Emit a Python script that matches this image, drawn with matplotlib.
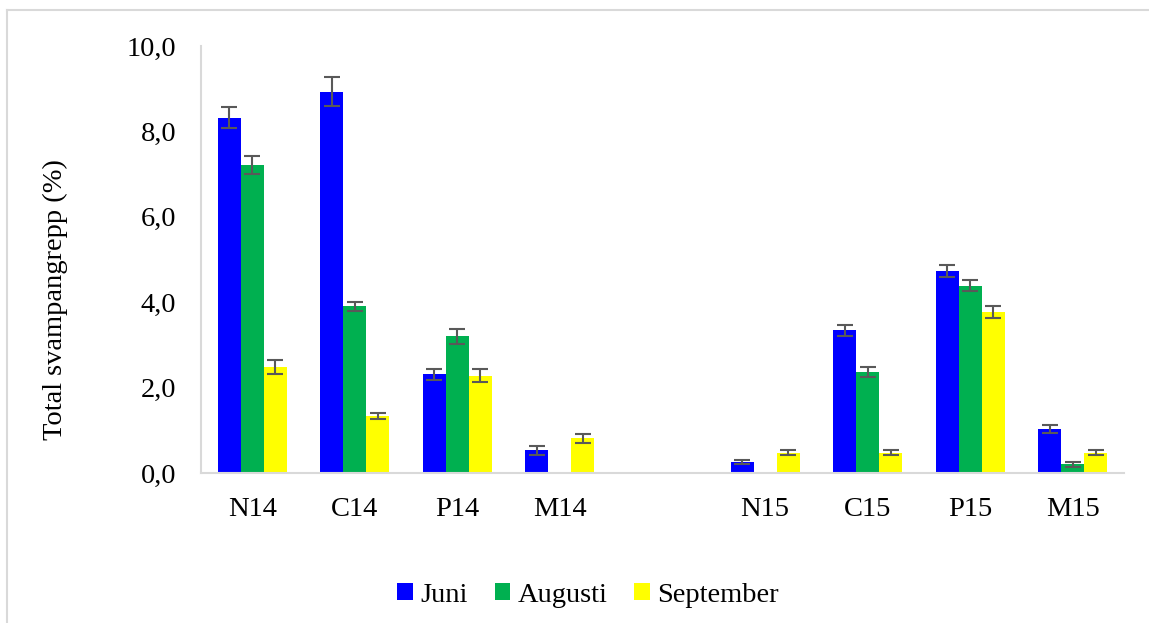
import numpy as np
import matplotlib
matplotlib.use('Agg')
import matplotlib.pyplot as plt
from matplotlib.lines import Line2D
from matplotlib.patches import Patch

plt.rcParams['font.family'] = ['Liberation Serif', 'DejaVu Serif']

# %% data (empty slot = gap between 2014 and 2015)
categories = ['N14', 'C14', 'P14', 'M14', '', 'N15', 'C15', 'P15', 'M15']
series = ['Juni', 'Augusti', 'September']

juni = [8.32, 8.93, 2.31, 0.53, np.nan, 0.26, 3.34, 4.73, 1.03]
augusti = [7.22, 3.90, 3.20, 0.0, np.nan, 0.0, 2.36, 4.39, 0.20]
september = [2.49, 1.34, 2.28, 0.81, np.nan, 0.48, 0.48, 3.76, 0.48]

juni_err = [0.25, 0.34, 0.13, 0.10, np.nan, 0.055, 0.13, 0.14, 0.10]
augusti_err = [0.21, 0.11, 0.18, np.nan, np.nan, np.nan, 0.12, 0.125, 0.05]
september_err = [0.16, 0.075, 0.15, 0.11, np.nan, 0.07, 0.07, 0.14, 0.07]

colors = ['#0000FF', '#00B050', '#FFFF00']

# %% plot
W, H = 1149, 623
fig = plt.figure(figsize=(W / 100, H / 100), dpi=100)
ax = fig.add_axes([201 / W, 1 - 473 / H, (1124 - 201) / W, (473 - 46) / H])

x = np.arange(len(categories))
width = 0.224
values = [juni, augusti, september]
errors = [juni_err, augusti_err, september_err]
for i in range(3):
    pos = x + (i - 1) * width
    ax.bar(pos, values[i], width, color=colors[i], label=series[i], zorder=2)
    ax.errorbar(pos, values[i], yerr=errors[i], fmt='none', ecolor='#595959',
                elinewidth=1.5, capsize=6, capthick=1.5, zorder=3)

ax.set_xlim(-0.5, len(categories) - 0.5)
ax.set_ylim(0, 10)
ax.set_yticks(np.arange(0, 10.1, 2))
ax.set_yticklabels([f'{v:.1f}'.replace('.', ',') for v in np.arange(0, 10.1, 2)])
ax.set_xticks(x)
ax.set_xticklabels(categories)
ax.tick_params(axis='both', length=0, labelsize=20.5, colors='black')
ax.tick_params(axis='y', pad=18)
ax.tick_params(axis='x', pad=17)

for s in ['top', 'right']:
    ax.spines[s].set_visible(False)
for s in ['left', 'bottom']:
    ax.spines[s].set_color('#D9D9D9')
    ax.spines[s].set_linewidth(1.5)

fig.text(55 / W, 1 - 300 / H, 'Total svampangrepp (%)', rotation=90,
         ha='center', va='center', fontsize=20.5)

handles = [Patch(facecolor=c, label=s) for c, s in zip(colors, series)]
fig.legend(handles=handles, loc='center', bbox_to_anchor=(588 / W, 1 - 595 / H),
           ncol=3, frameon=False, fontsize=20.5, handlelength=0.55,
           handleheight=0.55, handletextpad=0.25, columnspacing=0.95)

# outer chart frame (only top and left edges are in view)
fig.add_artist(Line2D([7 / W, 1], [1 - 10 / H, 1 - 10 / H], color='#D9D9D9', lw=1.5))
fig.add_artist(Line2D([7 / W, 7 / W], [0, 1 - 10 / H], color='#D9D9D9', lw=1.5))

fig.savefig('out.png', dpi=100)
